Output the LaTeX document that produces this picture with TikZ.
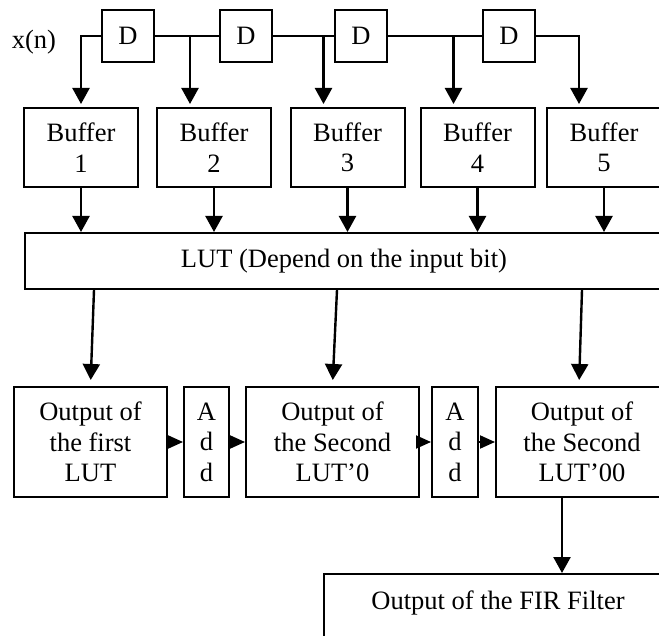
\documentclass[tikz,border=0pt]{standalone}
\usepackage{fontspec}
\setmainfont{Liberation Serif}
\usetikzlibrary{arrows.meta, calc, positioning}

\tikzset{
  box/.style={draw, line width=2pt, inner sep=0pt, align=center, font=\fontsize{26.5}{30.5}\selectfont},
  arr/.style={line width=2.4pt, -{Triangle[width=17pt,length=16pt]}},
  addarr/.style={line width=2pt, -{Triangle[width=13pt,length=15pt]}},
}

\begin{document}
\begin{tikzpicture}[x=1pt,y=-1pt]
\useasboundingbox (0,0) rectangle (659,636);
\clip (0,0) rectangle (659,636);

% Input and delay line
\node[font=\fontsize{26.5}{30.5}\selectfont, anchor=base] (xin) at (34,49) {x(n)};
\foreach \i/\x in {1/128, 2/246, 3/361, 4/509}
    \node[box, minimum width=52pt, minimum height=52pt] (d\i) at (\x,36) {D};
\draw[line width=2pt] (d1.east) -- (d2.west) (d2.east) -- (d3.west) (d3.east) -- (d4.west);

% Buffers
\foreach \i/\x in {1/81, 2/214, 3/347.5, 4/477.5, 5/604}
    \node[box, minimum width=114pt, minimum height=79pt] (b\i) at (\x,147.5) {Buffer\\\i};

% Taps into the buffers
\draw[arr, shorten >=3pt] (d1.west) -| (b1.north);
\foreach \i in {2,...,4} {
    \coordinate (t\i) at ($(b\i.north)+(-24,0)$);
    \draw[arr, shorten >=3pt] (t\i |- d1.east) -- (t\i);
}
\draw[arr, shorten >=3pt] (d4.east) -| ($(b5.north)+(-25,0)$);

% LUT
\node[box, anchor=north west, minimum width=638pt, minimum height=56pt] (lut) at (24,232) {LUT (Depend on the input bit)};
\foreach \i in {1,...,5}
    \draw[arr] (b\i.south) -- (b\i.south |- lut.north);

% Partial outputs and adders
\node[box, minimum width=153pt, minimum height=110pt] (o1) at (90.5,442) {Output of\\the first\\LUT};
\node[box, minimum width=45pt, minimum height=110pt] (a1) at (206.5,442) {A\\d\\d};
\node[box, minimum width=173pt, minimum height=110pt] (o2) at (332.5,442) {Output of\\the Second\\LUT’0};
\node[box, minimum width=46pt, minimum height=110pt] (a2) at (455,442) {A\\d\\d};
\node[box, minimum width=172pt, minimum height=110pt] (o3) at (582,442) {Output of\\the Second\\LUT’00};

\draw[arr, shorten >=6pt] ($(lut.south west)+(70,0)$) -- (o1.north);
\draw[arr, shorten >=6pt] ($(lut.south west)+(313,0)$) -- (o2.north);
\draw[arr, shorten >=6pt] ($(lut.south west)+(558,0)$) -- ($(o3.north)+(-3,0)$);

\draw[addarr] (o1.east) -- (a1.west);
\draw[addarr] (a1.east) -- (o2.west);
\draw[addarr] (o2.east) -- (a2.west);
\draw[addarr] (a2.east) -- (o3.west);

% Final output
\node[box, anchor=north west, minimum width=348pt, text height=35pt, text depth=45pt] (fir) at (323,573) {Output of the FIR Filter};
\coordinate (o3b) at ($(o3.south)+(-20,0)$);
\draw[arr] (o3b) -- (o3b |- fir.north);
\end{tikzpicture}
\end{document}
